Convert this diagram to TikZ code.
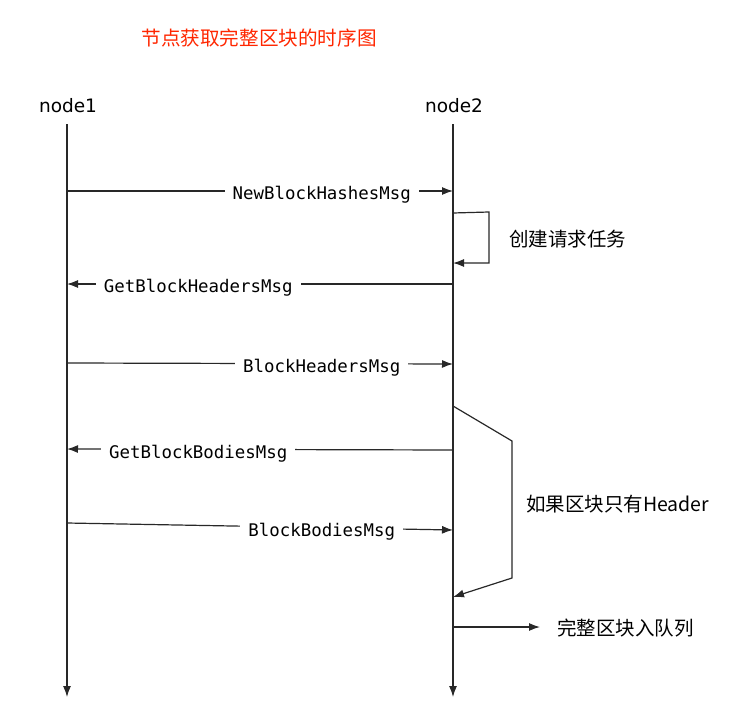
\documentclass[tikz,border=0pt]{standalone}
\usepackage{fontspec}
\newfontfamily\cjk{Noto Sans CJK SC}
\newfontfamily\monof{DejaVu Sans Mono}
\newfontfamily\sansf{DejaVu Sans}
\usetikzlibrary{arrows.meta}
\definecolor{titlered}{RGB}{255,38,0}
\definecolor{linegray}{RGB}{40,40,40}
\begin{document}
\begin{tikzpicture}[x=1pt,y=-1pt,
  ln/.style={draw=linegray,line width=1.2pt},
  arr/.style={ln,-{Latex[length=11pt,width=8pt]}},
  msg/.style={fill=white,inner xsep=8pt,inner ysep=2pt,font=\monof\fontsize{17.4}{20}\selectfont,text=black,pos=0.66,yshift=-4pt},
  cjklabel/.style={font=\cjk\fontsize{19.5}{22}\selectfont,text=black,anchor=west,inner sep=0pt},
  actor/.style={font=\sansf\fontsize{18.5}{22}\selectfont,text=black,inner sep=0pt}]
\useasboundingbox (0,0) rectangle (750,728);
% title and actors
\node[font=\cjk\fontsize{19.6}{22}\selectfont,text=titlered,inner sep=0pt] (title) at (259,38) {节点获取完整区块的时序图};
\node[actor] (node1) at (68,106) {node1};
\node[actor] (node2) at (454,106) {node2};
% lifeline coordinates
\coordinate (n1top) at (67,124);
\coordinate (n1bot) at (67,697);
\coordinate (n2top) at (453,124);
\coordinate (n2bot) at (453,697);
\draw[arr] (n1top) -- (n1bot);
\draw[arr] (n2top) -- (n2bot);
% message endpoints
\coordinate (a1) at (67,191);   \coordinate (b1) at (453,191);
\coordinate (a3) at (67,284);   \coordinate (b3) at (453,284);
\coordinate (a4) at (67,363);   \coordinate (b4) at (453,364);
\coordinate (a6) at (67,449);   \coordinate (b6) at (453,450);
\coordinate (a7) at (67,523);   \coordinate (b7) at (453,530);
% messages
\draw[arr] (a1) -- node[msg] (m1) {NewBlockHashesMsg} (b1);
\draw[arr] (b3) -- node[msg] (m3) {GetBlockHeadersMsg} (a3);
\draw[arr] (a4) -- node[msg] (m4) {BlockHeadersMsg} (b4);
\draw[arr] (b6) -- node[msg] (m6) {GetBlockBodiesMsg} (a6);
\draw[arr] (a7) -- node[msg] (m7) {BlockBodiesMsg} (b7);
% self loop 1
\coordinate (s1a) at (453,213);
\coordinate (s1b) at (489,212);
\coordinate (s1c) at (489,263);
\coordinate (s1d) at (453,263);
\draw[arr] (s1a) -- (s1b) -- (s1c) -- (s1d);
\node[cjklabel] (l1) at (509,239) {创建请求任务};
% self loop 2
\coordinate (s2a) at (453,406);
\coordinate (s2b) at (512,441);
\coordinate (s2c) at (512,578);
\coordinate (s2d) at (453,597);
\draw[arr] (s2a) -- (s2b) -- (s2c) -- (s2d);
\node[cjklabel] (l2) at (526,504) {如果区块只有Header};
% enqueue
\coordinate (e1) at (453,627);
\coordinate (e2) at (540,627);
\draw[arr] (e1) -- (e2);
\node[cjklabel] (l3) at (557,628) {完整区块入队列};
\end{tikzpicture}
\end{document}
